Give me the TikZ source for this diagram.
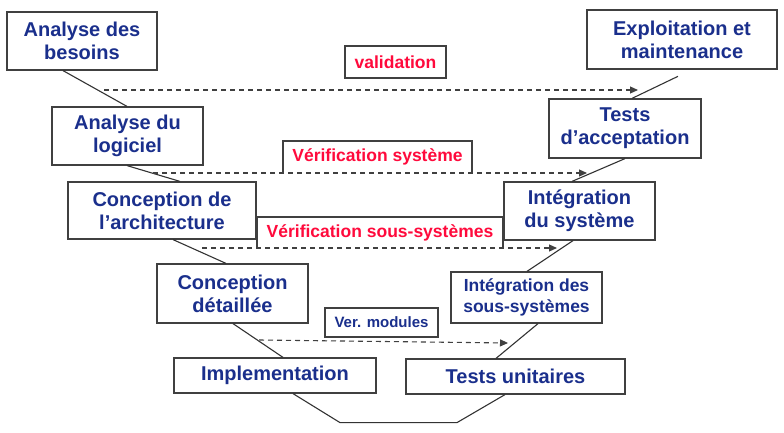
\documentclass[tikz,border=0pt]{standalone}
\usepackage{fontspec}
\setmainfont{Liberation Sans}
\usetikzlibrary{arrows.meta}
\definecolor{bleu}{HTML}{1A2F8C}
\definecolor{rouge}{HTML}{FF0A3C}
\begin{document}
\begin{tikzpicture}[x=1pt,y=-1pt,>={Triangle[length=8pt,width=7pt]},
  font=\bfseries\fontsize{20}{23}\selectfont,
  etape/.style={draw=black!75,line width=1.2pt,fill=white,text=bleu,align=center,inner sep=0pt},
  verif/.style={etape,text=rouge,font=\bfseries\fontsize{17.5}{20}\selectfont},
  lien/.style={black!80,line width=1.1pt},
  test/.style={->,black!75,line width=1.1pt,dash pattern=on 5pt off 4pt,
    preaction={draw=white,solid,line width=1.6pt}}]
  \useasboundingbox (0,0) rectangle (784,433);
  \node[etape,minimum width=150pt,minimum height=58pt] (besoins) at (82,41) {Analyse des\\besoins};
  \node[etape,minimum width=151pt,minimum height=58pt] (logiciel) at (127.5,136) {Analyse du\\logiciel};
  \node[etape,minimum width=188pt,minimum height=57pt] (archi) at (162,210.5) {Conception de\\l’architecture};
  \node[etape,minimum width=151pt,minimum height=59pt] (detail) at (232.5,293.5) {Conception\\détaillée};
  \node[etape,minimum width=202pt,minimum height=35pt] (impl) at (275,375.5) {Implementation};
  \node[etape,minimum width=219pt,minimum height=35pt] (unit) at (515.5,376.5) {Tests unitaires};
  \node[etape,minimum width=151pt,minimum height=51pt,font=\bfseries\fontsize{17.5}{21}\selectfont] (ssys) at (526.5,297.5) {Intégration des\\sous-systèmes};
  \node[etape,minimum width=151pt,minimum height=58pt] (isys) at (579.5,211) {Intégration\\du système};
  \node[etape,minimum width=152pt,minimum height=59pt] (accept) at (625,128.5) {Tests\\d’acceptation};
  \node[etape,minimum width=190pt,minimum height=59pt] (exploit) at (682,39.5) {Exploitation et\\maintenance};
  \node[verif,minimum width=101pt,minimum height=32pt] (valid) at (395.5,62) {validation};
  \node[verif,minimum width=189pt,minimum height=32pt] (vsys) at (377.5,157) {Vérification système};
  \node[verif,minimum width=246pt,minimum height=31pt] (vssys) at (380,232.5) {Vérification sous-systèmes};
  \node[verif,minimum width=113pt,minimum height=29pt,text=bleu,font=\bfseries\fontsize{15}{18}\selectfont] (vmod) at (381.5,322.5) {Ver. modules};
  \draw[lien] (besoins.south -| 63,0) -- (logiciel.north -| 127,0);
  \draw[lien] (logiciel.south -| 127,0) -- (archi.north -| 180,0);
  \draw[lien] (archi.south -| 173,0) -- (detail.north -| 226,0);
  \draw[lien] (detail.south -| 233,0) -- (impl.north -| 283,0);
  \draw[lien] (impl.south -| 293,0) -- ++(47,29) -- ++(117,0) -- (unit.south -| 505,0);
  \draw[lien] (unit.north -| 496,0) -- (ssys.south -| 538,0);
  \draw[lien] (ssys.north -| 527,0) -- (isys.south -| 573,0);
  \draw[lien] (isys.north -| 572,0) -- (accept.south -| 625,0);
  \draw[lien,shorten >=15.6pt] (accept.north -| 632,0) -- (exploit.south -| 692,0);
  \coordinate (va) at (104,90);
  \coordinate (vb) at (638,90);
  \coordinate (sa) at (153,173);
  \coordinate (sb) at (587,173);
  \coordinate (ssa) at (202,248);
  \coordinate (ssb) at (557,248);
  \coordinate (ma) at (259,340);
  \coordinate (mb) at (508,343);
  \draw[test] (va) -- (vb);
  \draw[test] (sa) -- (sb);
  \draw[test] (ssa) -- (ssb);
  \draw[test] (ma) -- (mb);
\end{tikzpicture}
\end{document}
